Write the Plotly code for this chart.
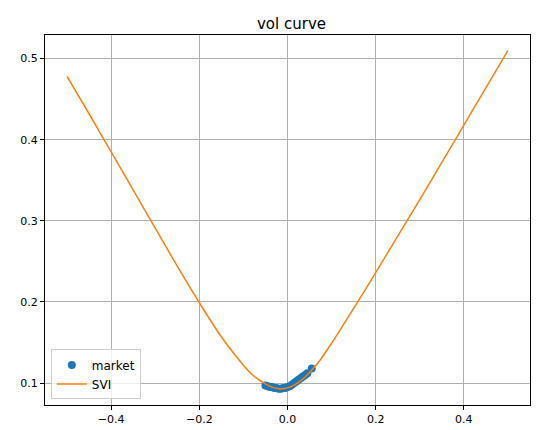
import plotly.graph_objects as go

# SVI fitted curve
svi_k = [-0.5, -0.45, -0.4, -0.35, -0.3, -0.25, -0.2, -0.15, -0.1, -0.075, -0.05, -0.035, -0.02, -0.01, 0.0,
         0.01, 0.02, 0.035, 0.05, 0.075, 0.1, 0.15, 0.2, 0.25, 0.3, 0.35, 0.4, 0.45, 0.5]
svi_vol = [0.478, 0.432, 0.385, 0.338, 0.291, 0.244, 0.199, 0.157, 0.122, 0.108, 0.099, 0.095, 0.093, 0.093, 0.094,
           0.096, 0.099, 0.105, 0.113, 0.129, 0.149, 0.192, 0.236, 0.281, 0.326, 0.372, 0.418, 0.464, 0.510]

# market quotes
mkt_k = [-0.05, -0.045, -0.04, -0.035, -0.03, -0.025, -0.02, -0.015, -0.01, -0.005, 0.0, 0.005, 0.01,
         0.015, 0.02, 0.025, 0.03, 0.035, 0.04, 0.045, 0.055]
mkt_vol = [0.097, 0.096, 0.095, 0.095, 0.094, 0.094, 0.093, 0.093, 0.094, 0.094, 0.095, 0.096, 0.098,
           0.100, 0.102, 0.104, 0.106, 0.108, 0.110, 0.112, 0.118]

fig = go.Figure()
fig.add_trace(go.Scatter(x=mkt_k, y=mkt_vol, mode="markers", name="market",
                         marker=dict(color="#1f77b4", size=8)))
fig.add_trace(go.Scatter(x=svi_k, y=svi_vol, mode="lines", name="SVI",
                         line=dict(color="#ff7f0e", width=1.5, shape="spline", smoothing=0.6)))

axis = dict(showgrid=True, gridcolor="#b0b0b0", gridwidth=1, zeroline=False,
            showline=True, linecolor="black", mirror=True, ticks="outside",
            ticklen=4, tickcolor="black")
fig.update_layout(
    width=540, height=430,
    title=dict(text="vol curve", x=0.525, y=0.975, font=dict(size=15, color="black")),
    font=dict(family="DejaVu Sans", size=11, color="black"),
    plot_bgcolor="white", paper_bgcolor="white",
    margin=dict(l=35, r=18, t=27, b=30),
    xaxis=dict(axis, range=[-0.55, 0.55], tickvals=[-0.4, -0.2, 0, 0.2, 0.4],
               ticktext=["−0.4", "−0.2", "0.0", "0.2", "0.4"]),
    yaxis=dict(axis, range=[0.0729, 0.5291], tickvals=[0.1, 0.2, 0.3, 0.4, 0.5]),
    legend=dict(x=0.012, y=0.015, xanchor="left", yanchor="bottom", font=dict(size=12),
                bordercolor="#cccccc", borderwidth=1, bgcolor="rgba(255,255,255,0.8)"),
    showlegend=True,
)
fig.write_html("out.html")
